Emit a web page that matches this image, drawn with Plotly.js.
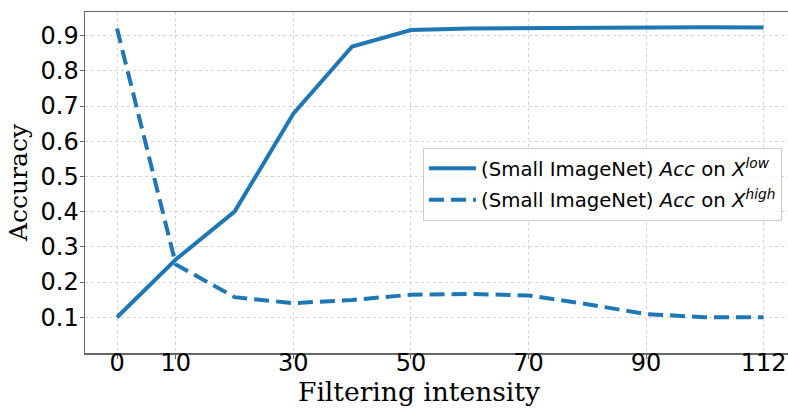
<!DOCTYPE html>
<html>
<head>
<meta charset="utf-8">
<script src="https://cdn.plot.ly/plotly-3.0.1.min.js"></script>
<style>html,body{margin:0;padding:0;background:#fff;}#chart{width:788px;height:408px;}</style>
</head>
<body>
<div id="chart"></div>
<script>
// Filtering intensity categories (evenly spaced categories on the x axis)
const intensities = ['0', '10', '20', '30', '40', '50', '60', '70', '80', '90', '100', '112'];
// Categories that carry a tick label
const labeledIntensities = ['0', '10', '30', '50', '70', '90', '112'];
// Accuracy on low-frequency component
const accLow = [0.10, 0.264, 0.40, 0.678, 0.869, 0.916, 0.920, 0.921, 0.924, 0.924, 0.924, 0.923];
// Accuracy on high-frequency component
const accHigh = [0.92, 0.25, 0.157, 0.14, 0.149, 0.164, 0.166, 0.162, 0.137, 0.109, 0.10, 0.10];
const yTicks = [0.1, 0.2, 0.3, 0.4, 0.5, 0.6, 0.7, 0.8, 0.9];
const seriesNames = ['(Small ImageNet) <i>Acc</i> on <i>X</i><sup><i>low</i></sup>',
                     '(Small ImageNet) <i>Acc</i> on <i>X</i><sup><i>high</i></sup>'];
const xTitle = 'Filtering intensity';
const yTitle = 'Accuracy';

const blue = '#1f77b4';
const traces = [
  {x: intensities, y: accLow, type: 'scatter', mode: 'lines', name: seriesNames[0],
   legendgroup: 'a', line: {color: blue, width: 4}},
  {x: intensities, y: accHigh, type: 'scatter', mode: 'lines', name: seriesNames[1],
   legendgroup: 'b', line: {color: blue, width: 4, dash: '15px,7px'}}
];

const axisCommon = {
  showline: true, linecolor: '#666', linewidth: 1.5, mirror: true,
  showgrid: true, gridcolor: '#d4d4d4', gridwidth: 1, griddash: 'dot',
  zeroline: false, ticks: 'outside', ticklen: 4, tickwidth: 1, tickcolor: '#666',
  tickfont: {family: 'DejaVu Sans', size: 24, color: '#000'}
};
const xRange = [-0.545, 11.416];

const layout = {
  width: 788, height: 408,
  margin: {l: 85, r: 0, t: 12, b: 55, pad: 0},
  paper_bgcolor: '#fff', plot_bgcolor: '#fff',
  showlegend: true,
  xaxis: Object.assign({}, axisCommon, {
    type: 'category', range: xRange, categoryorder: 'array', categoryarray: intensities,
    tickmode: 'array', tickvals: labeledIntensities, ticktext: labeledIntensities,
    ticklabelstandoff: -16,
    automargin: false
  }),
  xaxis2: Object.assign({}, axisCommon, {
    type: 'category', range: xRange, categoryorder: 'array', categoryarray: intensities,
    overlaying: 'x', side: 'bottom', anchor: 'y',
    tickmode: 'array', tickvals: intensities, showticklabels: false, showline: false,
    automargin: false
  }),
  yaxis: Object.assign({}, axisCommon, {
    range: [-0.0016, 0.967],
    tickmode: 'array', tickvals: yTicks, ticktext: yTicks.map(v => v.toFixed(1)),
    ticklabelstandoff: -4,
    title: {text: yTitle, font: {family: 'DejaVu Serif', size: 25, color: '#000'}, standoff: 6},
    automargin: false
  }),
  annotations: [{
    text: xTitle, xref: 'paper', yref: 'paper', x: 0.475, y: -0.112,
    xanchor: 'center', yanchor: 'middle', showarrow: false,
    font: {family: 'DejaVu Serif', size: 26.5, color: '#000'}
  }],
  legend: {
    x: 0.9915, y: 0.6015, xanchor: 'right', yanchor: 'top',
    bgcolor: 'rgba(255,255,255,0.8)', bordercolor: '#cccccc', borderwidth: 1,
    font: {family: 'DejaVu Sans', size: 19.7, color: '#000'},
    traceorder: 'grouped', tracegroupgap: 3, itemwidth: 47
  }
};

Plotly.newPlot('chart', traces, layout, {displayModeBar: false, staticPlot: true});
</script>
</body>
</html>
